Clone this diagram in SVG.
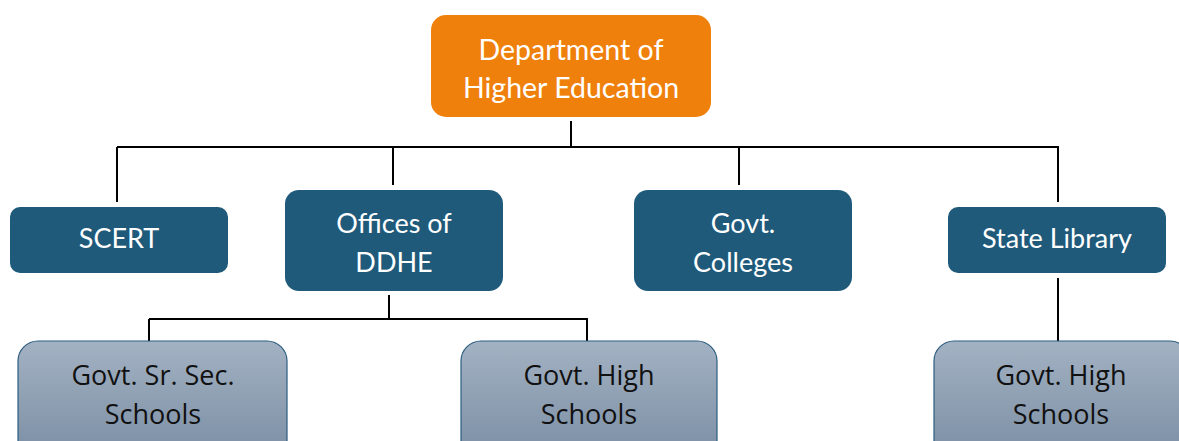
<svg xmlns="http://www.w3.org/2000/svg" width="1179" height="441" viewBox="0 0 1179 441">
<defs>
<linearGradient id="g" x1="0" y1="0" x2="0" y2="1">
<stop offset="0" stop-color="#A3B2C3"/>
<stop offset="1" stop-color="#7A8DA3"/>
</linearGradient>
<style>
.top{fill:#EF800C}
.mid{fill:#1F5A7B}
.bot{fill:url(#g);stroke:#2C5E80;stroke-width:1.2}
.tw{font-family:Lato,"Open Sans",sans-serif;font-size:27px;fill:#fff;text-anchor:middle}
.tt{font-size:28.5px}
.tb{font-family:"Open Sans",Lato,sans-serif;font-size:27px;fill:#111;text-anchor:middle}
.ln{stroke:#000;stroke-width:2;fill:none}
</style>
</defs>
<rect width="1179" height="441" fill="#fff"/>
<g id="connectors">
<path class="ln" d="M571 121V147M117 147H1059M117 147V202M393 147V185M739 147V185M1058 147V202M1058 278V341"/>
<path class="ln" d="M389 295V319M149 319H588M149 319V341M587 319V341"/>
</g>
<g id="dhe">
<rect class="top" x="431" y="15" width="280" height="102" rx="15"/>
<text class="tw tt" x="571" y="60">Department of</text>
<text class="tw tt" x="571" y="98">Higher Education</text>
</g>
<g id="scert">
<rect class="mid" x="10" y="207" width="218" height="66" rx="10"/>
<text class="tw" x="119" y="248">SCERT</text>
</g>
<g id="ddhe">
<rect class="mid" x="285" y="190" width="218" height="101" rx="14"/>
<text class="tw" x="394" y="233">Offices of</text>
<text class="tw" x="394" y="272">DDHE</text>
</g>
<g id="colleges">
<rect class="mid" x="634" y="190" width="218" height="101" rx="14"/>
<text class="tw" x="743" y="233">Govt.</text>
<text class="tw" x="743" y="272">Colleges</text>
</g>
<g id="library">
<rect class="mid" x="948" y="207" width="218" height="66" rx="10"/>
<text class="tw" x="1057" y="248">State Library</text>
</g>
<g id="srsec">
<rect class="bot" x="18" y="341" width="269" height="120" rx="20"/>
<text class="tb" x="153" y="385">Govt. Sr. Sec.</text>
<text class="tb" x="153" y="424">Schools</text>
</g>
<g id="high1">
<rect class="bot" x="461" y="341" width="256" height="120" rx="20"/>
<text class="tb" x="589" y="385">Govt. High</text>
<text class="tb" x="589" y="424">Schools</text>
</g>
<g id="high2">
<rect class="bot" x="934" y="341" width="256" height="120" rx="20"/>
<text class="tb" x="1061" y="385">Govt. High</text>
<text class="tb" x="1061" y="424">Schools</text>
</g>
</svg>
